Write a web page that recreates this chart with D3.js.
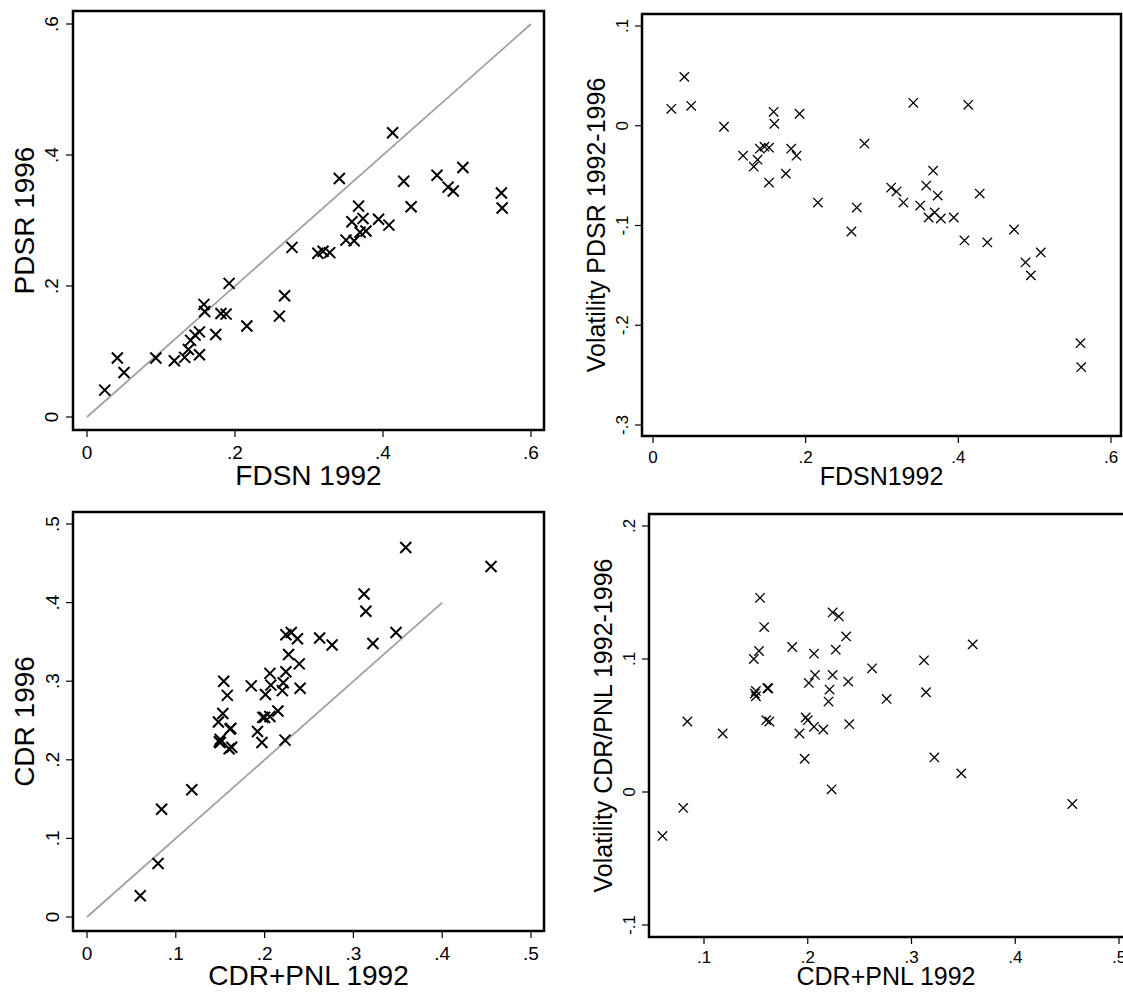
<!DOCTYPE html>
<html lang="en">
<head>
<meta charset="utf-8">
<title>Vote shares 1992 - 1996</title>
<script src="https://cdn.jsdelivr.net/npm/d3@7"></script>
<style>
  body { margin: 0; background: #fff; }
  svg { display: block; font-family: "Liberation Sans", Arial, Helvetica, sans-serif; }
</style>
</head>
<body>
<script>
// top panels: FDSN 1992 against PDSR 1996 and its volatility
var fdsn1992 = [0.024, 0.041, 0.050, 0.093, 0.118, 0.132, 0.137, 0.140, 0.146, 0.152,
                0.152, 0.158, 0.159, 0.174, 0.181, 0.188, 0.192, 0.216, 0.260, 0.267,
                0.277, 0.312, 0.319, 0.328, 0.341, 0.350, 0.358, 0.361, 0.367, 0.369,
                0.373, 0.377, 0.394, 0.408, 0.413, 0.428, 0.438, 0.473, 0.488, 0.495,
                0.508, 0.560, 0.561];
var pdsr1996 = [0.041, 0.090, 0.068, 0.090, 0.086, 0.091, 0.103, 0.117, 0.125, 0.130,
                0.095, 0.172, 0.161, 0.126, 0.158, 0.157, 0.204, 0.139, 0.154, 0.185,
                0.259, 0.250, 0.253, 0.251, 0.364, 0.270, 0.298, 0.269, 0.322, 0.282,
                0.303, 0.284, 0.302, 0.293, 0.434, 0.360, 0.321, 0.369, 0.351, 0.345,
                0.381, 0.342, 0.319];
var volPdsr = [0.017, 0.049, 0.020, -0.001, -0.030, -0.041, -0.034, -0.023, -0.021, -0.022,
               -0.057, 0.014, 0.002, -0.048, -0.023, -0.030, 0.012, -0.077, -0.106, -0.082,
               -0.018, -0.062, -0.066, -0.077, 0.023, -0.080, -0.060, -0.092, -0.045, -0.087,
               -0.070, -0.093, -0.092, -0.115, 0.021, -0.068, -0.117, -0.104, -0.137, -0.150,
               -0.127, -0.218, -0.242];

// bottom panels: CDR+PNL 1992 against CDR 1996 and its volatility
var cdrPnl1992 = [0.060, 0.080, 0.084, 0.118, 0.148, 0.149, 0.150, 0.150, 0.153, 0.154,
                  0.158, 0.160, 0.161, 0.162, 0.163, 0.185, 0.192, 0.197, 0.198, 0.200,
                  0.201, 0.206, 0.206, 0.207, 0.215, 0.220, 0.221, 0.223, 0.224, 0.224,
                  0.227, 0.230, 0.237, 0.239, 0.240, 0.262, 0.276, 0.312, 0.314, 0.322,
                  0.348, 0.359, 0.455];
var cdr1996 = [0.027, 0.068, 0.137, 0.162, 0.248, 0.223, 0.226, 0.222, 0.259, 0.300,
               0.282, 0.214, 0.239, 0.240, 0.216, 0.294, 0.236, 0.222, 0.254, 0.254,
               0.283, 0.310, 0.255, 0.295, 0.262, 0.288, 0.298, 0.225, 0.312, 0.359,
               0.334, 0.362, 0.354, 0.322, 0.291, 0.355, 0.346, 0.411, 0.389, 0.348,
               0.362, 0.470, 0.446];
var volCdr = [-0.033, -0.012, 0.053, 0.044, 0.100, 0.074, 0.076, 0.072, 0.106, 0.146,
              0.124, 0.054, 0.078, 0.078, 0.053, 0.109, 0.044, 0.025, 0.056, 0.054,
              0.082, 0.104, 0.049, 0.088, 0.047, 0.068, 0.077, 0.002, 0.088, 0.135,
              0.107, 0.132, 0.117, 0.083, 0.051, 0.093, 0.070, 0.099, 0.075, 0.026,
              0.014, 0.111, -0.009];

// tick values
var ticksFdsn = [0, 0.2, 0.4, 0.6];
var ticksPdsr = [0, 0.2, 0.4, 0.6];
var ticksVolPdsr = [-0.3, -0.2, -0.1, 0, 0.1];
var ticksCdrPnl = [0, 0.1, 0.2, 0.3, 0.4, 0.5];
var ticksCdr = [0, 0.1, 0.2, 0.3, 0.4, 0.5];
var ticksCdrPnlVol = [0.1, 0.2, 0.3, 0.4, 0.5];
var ticksVolCdr = [-0.1, 0, 0.1, 0.2];

// 45 degree reference lines
var diagFdsn = [0, 0.6];
var diagCdr = [0, 0.4];

var W = 1123, H = 992;
var svg = d3.select("body").append("svg")
    .attr("width", W)
    .attr("height", H);

// Stata style labels: .2 instead of 0.2
function stataFmt(v) {
    if (Math.abs(v) < 1e-9) return "0";
    var s = d3.format(".1f")(Math.abs(v)).replace(/^0/, "");
    return (v < 0 ? "-" : "") + s;
}

var panels = [
    { xs: fdsn1992, ys: pdsr1996, xTicks: ticksFdsn, yTicks: ticksPdsr, diag: diagFdsn,
      xDom: [0, 0.6], xRng: [87, 531], yDom: [0, 0.6], yRng: [417, 24],
      frame: { l: 73, r: 544, t: 11, b: 430 },
      xTitle: "FDSN 1992", yTitle: "PDSR 1996", titleSize: 28, labSize: 19,
      xTitleY: 485, yTitleX: 34, xLabOff: 29, yLabOff: 15, mk: 5.5, mkW: 2 },
    { xs: fdsn1992, ys: volPdsr, xTicks: ticksFdsn, yTicks: ticksVolPdsr, diag: null,
      xDom: [0, 0.6], xRng: [653, 1111], yDom: [-0.3, 0.1], yRng: [425, 26],
      frame: { l: 642, r: 1121, t: 14, b: 436 },
      xTitle: "FDSN1992", yTitle: "Volatility PDSR 1992-1996", titleSize: 25, labSize: 17,
      xTitleY: 485, yTitleX: 605, xLabOff: 27, yLabOff: 14, mk: 4.7, mkW: 1.3 },
    { xs: cdrPnl1992, ys: cdr1996, xTicks: ticksCdrPnl, yTicks: ticksCdr, diag: diagCdr,
      xDom: [0, 0.5], xRng: [87, 531], yDom: [0, 0.5], yRng: [917, 524],
      frame: { l: 73, r: 544, t: 512, b: 931 },
      xTitle: "CDR+PNL 1992", yTitle: "CDR 1996", titleSize: 28, labSize: 19,
      xTitleY: 985, yTitleX: 34, xLabOff: 29, yLabOff: 14, mk: 5.5, mkW: 2 },
    { xs: cdrPnl1992, ys: volCdr, xTicks: ticksCdrPnlVol, yTicks: ticksVolCdr, diag: null,
      xDom: [0.1, 0.5], xRng: [704, 1119], yDom: [-0.1, 0.2], yRng: [925, 526],
      frame: { l: 649, r: 1126, t: 514, b: 937 },
      xTitle: "CDR+PNL 1992", yTitle: "Volatility CDR/PNL 1992-1996", titleSize: 25, labSize: 17,
      xTitleY: 985, yTitleX: 612, xLabOff: 26, yLabOff: 14, mk: 4.7, mkW: 1.3 }
];

panels.forEach(function(p) {
    var x = d3.scaleLinear().domain(p.xDom).range(p.xRng);
    var y = d3.scaleLinear().domain(p.yDom).range(p.yRng);
    var f = p.frame;
    var g = svg.append("g");

    //Frame
    g.append("rect")
        .attr("x", f.l).attr("y", f.t)
        .attr("width", f.r - f.l).attr("height", f.b - f.t)
        .attr("fill", "none")
        .attr("stroke", "#000")
        .attr("stroke-width", 2.5);

    //X ticks and labels
    g.selectAll(".xt").data(p.xTicks).enter().append("line")
        .attr("x1", function(d) { return x(d); })
        .attr("x2", function(d) { return x(d); })
        .attr("y1", f.b).attr("y2", f.b + 7)
        .attr("stroke", "#000").attr("stroke-width", 1.2);
    g.selectAll(".xl").data(p.xTicks).enter().append("text")
        .attr("x", function(d) { return x(d); })
        .attr("y", f.b + p.xLabOff)
        .attr("text-anchor", "middle")
        .attr("font-size", p.labSize)
        .text(stataFmt);

    //Y ticks and labels (rotated)
    g.selectAll(".yt").data(p.yTicks).enter().append("line")
        .attr("x1", f.l - 7).attr("x2", f.l)
        .attr("y1", function(d) { return y(d); })
        .attr("y2", function(d) { return y(d); })
        .attr("stroke", "#000").attr("stroke-width", 1.2);
    g.selectAll(".yl").data(p.yTicks).enter().append("text")
        .attr("transform", function(d) {
            return "translate(" + (f.l - p.yLabOff) + "," + y(d) + ") rotate(-90)";
        })
        .attr("text-anchor", "middle")
        .attr("font-size", p.labSize)
        .text(stataFmt);

    //Axis titles
    g.append("text")
        .attr("x", (f.l + Math.min(f.r, W)) / 2)
        .attr("y", p.xTitleY)
        .attr("text-anchor", "middle")
        .attr("font-size", p.titleSize)
        .text(p.xTitle);
    g.append("text")
        .attr("transform", "translate(" + p.yTitleX + "," + ((f.t + f.b) / 2) + ") rotate(-90)")
        .attr("text-anchor", "middle")
        .attr("font-size", p.titleSize)
        .text(p.yTitle);

    //45 degree line
    if (p.diag) {
        g.append("line")
            .attr("x1", x(p.diag[0])).attr("y1", y(p.diag[0]))
            .attr("x2", x(p.diag[1])).attr("y2", y(p.diag[1]))
            .attr("stroke", "#a0a0a0")
            .attr("stroke-width", 1.8);
    }

    //X markers
    var s = p.mk;
    g.selectAll(".pt").data(p.xs).enter().append("path")
        .attr("transform", function(d, i) {
            return "translate(" + x(d) + "," + y(p.ys[i]) + ")";
        })
        .attr("d", "M" + (-s) + "," + (-s) + "L" + s + "," + s + "M" + (-s) + "," + s + "L" + s + "," + (-s))
        .attr("fill", "none")
        .attr("stroke", "#000")
        .attr("stroke-width", p.mkW);
});
</script>
</body>
</html>
